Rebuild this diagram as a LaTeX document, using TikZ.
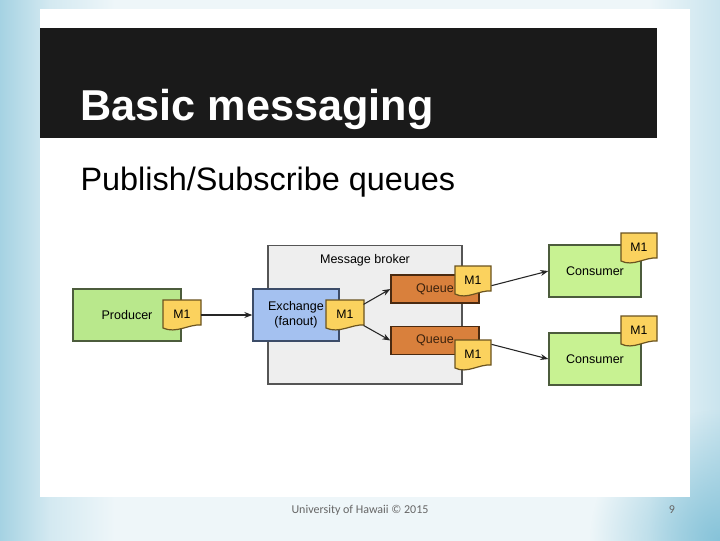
\documentclass[tikz,border=0pt]{standalone}
\usepackage{fontspec}
\setmainfont{Liberation Sans}
\newfontfamily\footfont{Carlito}
\usetikzlibrary{arrows.meta,fadings}

\definecolor{slidebase}{HTML}{EEF6F9}
\definecolor{slideblue}{HTML}{86C3D9}
\definecolor{titlebar}{HTML}{1A1A1A}
\definecolor{prodgreen}{HTML}{B9E88C}
\definecolor{consgreen}{HTML}{C8F292}
\definecolor{greenline}{HTML}{4C5C3C}
\definecolor{exchblue}{HTML}{A4C1F0}
\definecolor{exchline}{HTML}{3C4C68}
\definecolor{brokerfill}{HTML}{EEEEEE}
\definecolor{brokerline}{HTML}{555555}
\definecolor{queuefill}{HTML}{D9803C}
\definecolor{queueline}{HTML}{4A2A10}
\definecolor{notefill}{HTML}{FBD25E}
\definecolor{noteline}{HTML}{6B5420}

\pgfdeclarehorizontalshading{slideshade}{100bp}{
  color(0bp)=(slideblue!70!slidebase);
  color(25bp)=(slideblue!70!slidebase);
  color(28.5bp)=(slideblue!25!slidebase);
  color(33bp)=(slidebase);
  color(70bp)=(slidebase);
  color(75bp)=(slideblue!35!slidebase);
  color(100bp)=(slideblue!35!slidebase)}
\tikzfading[name=cornerfade,inner color=transparent!0,outer color=transparent!100]

% x y half width of the note, its height is fixed
\newcommand{\msgnote}[4]{
  \draw[fill=notefill,draw=noteline,line width=0.9pt]
    (#2-#4,#3-15) -- (#2+#4,#3-15) -- (#2+#4,#3+10)
    .. controls (#2+#4-12,#3+9) and (#2-6,#3+19) .. (#2-#4,#3+13) -- cycle;
  \node[notelabel] (#1) at (#2,#3) {\raisebox{0.8pt}{M1}};
}

\begin{document}
\begin{tikzpicture}[x=0.75pt,y=-0.75pt,->,>={Stealth[length=6pt,width=4.5pt]},line width=0.8pt,draw=black!85]
  \tikzstyle{box}=[draw,line width=1pt,inner sep=0pt,font=\fontsize{9.4}{11.5}\selectfont]
  \tikzstyle{notelabel}=[inner sep=0pt,minimum width=27pt,minimum height=21pt,font=\fontsize{9.2}{11}\selectfont]
  \tikzstyle{greenbox}=[box,draw=greenline,minimum width=69pt,minimum height=39pt]
  \tikzstyle{queuebox}=[box,fill=queuefill,draw=queueline,text=queueline!80!black,minimum width=66pt,minimum height=21pt]

  \useasboundingbox (0,0) rectangle (720,540);

  % slide background
  \path[shading=slideshade,draw=none,-] (0,0) rectangle (720,540);
  \begin{scope}
    \clip (0,0) rectangle (720,540);
    \path[fill=slideblue,path fading=cornerfade,draw=none,-] (720,540) circle (130);
  \end{scope}
  \path[fill=white,draw=none,-] (40,9) rectangle (690,497);
  \path[fill=titlebar,draw=none,-] (40,28) rectangle (657,138);

  \node[anchor=base west,inner sep=0pt,text=white,font=\bfseries\fontsize{32.4}{36}\selectfont] (title) at (80,120) {Basic messaging};
  \node[anchor=base west,inner sep=0pt,text=black,font=\fontsize{24.3}{30}\selectfont] (subtitle) at (80,190) {Publish/Subscribe queues};

  % broker and what sits in it
  \node[box,fill=brokerfill,draw=brokerline,minimum width=145.5pt,minimum height=104pt] (broker) at (365,314.5) {};
  \node[inner sep=0pt,font=\fontsize{9.4}{11.5}\selectfont] (brokerlabel) at (365,260) {Message broker};
  \node[greenbox,fill=prodgreen,minimum width=81pt] (producer) at (127,315) {Producer};
  \node[box,fill=exchblue,draw=exchline,align=center,minimum width=64.5pt,minimum height=39pt] (exchange) at (296,315) {Exchange\\(fanout)};
  \node[queuebox] (queueA) at (435,289) {Queue};
  \node[queuebox] (queueB) at (435,340.5) {Queue};
  \node[greenbox,fill=consgreen] (consumerA) at (595,271) {Consumer};
  \node[greenbox,fill=consgreen] (consumerB) at (595,359) {Consumer};

  \msgnote{noteP}{182}{315}{19}
  \msgnote{noteE}{345}{315}{19}
  \msgnote{noteA}{473}{281}{18}
  \msgnote{noteB}{473}{355}{18}
  \msgnote{noteC}{639}{248}{18}
  \msgnote{noteD}{639}{331}{18}

  \path (noteP) edge (exchange.west)
        (noteE) edge (queueA.west)
        (noteE) edge (queueB.west)
        ([yshift=-3.5pt]noteA.east) edge (consumerA.west)
        ([yshift=8pt]noteB.east) edge (consumerB.west);

  \node[inner sep=0pt,text=black!60,font=\footfont\fontsize{9}{11}\selectfont] (footer) at (360,510) {University of Hawaii © 2015};
  \node[inner sep=0pt,text=black!60,font=\footfont\fontsize{9}{11}\selectfont] (pagenum) at (672,510) {9};
\end{tikzpicture}
\end{document}
